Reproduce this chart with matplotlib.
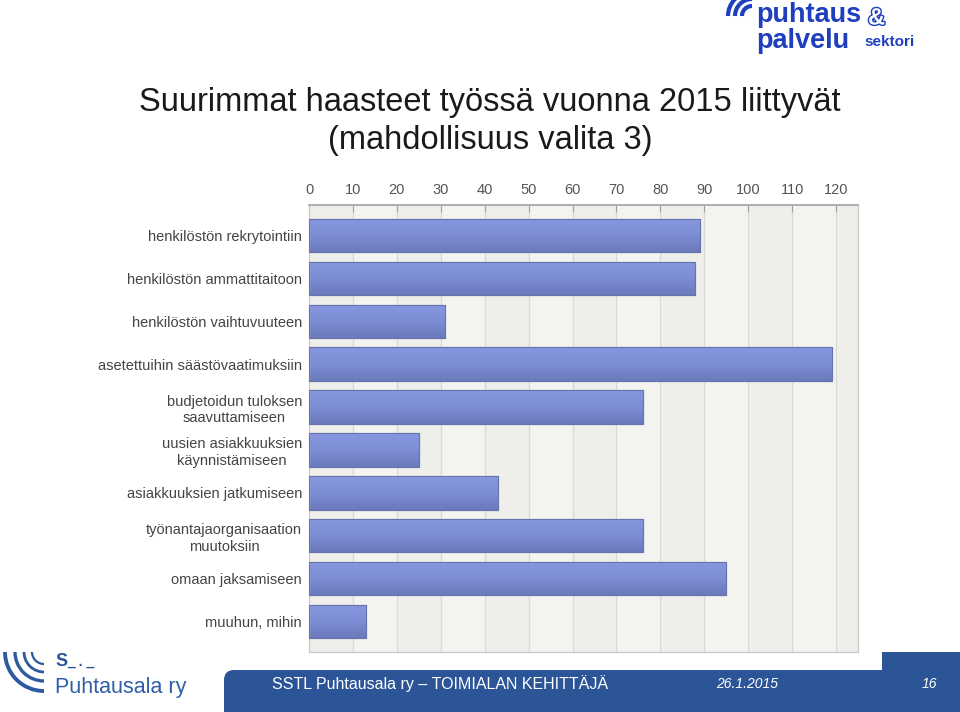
import matplotlib
matplotlib.use("Agg")
import matplotlib.pyplot as plt
import matplotlib.patheffects as pe
import numpy as np
from matplotlib.patches import Rectangle, FancyBboxPatch, Arc
from matplotlib.colors import LinearSegmentedColormap

plt.rcParams['font.family'] = ['Liberation Sans', 'DejaVu Sans']

categories = [
    "henkilöstön rekrytointiin",
    "henkilöstön ammattitaitoon",
    "henkilöstön vaihtuvuuteen",
    "asetettuihin säästövaatimuksiin",
    "budjetoidun tuloksen\nsaavuttamiseen",
    "uusien asiakkuuksien\nkäynnistämiseen",
    "asiakkuuksien jatkumiseen",
    "työnantajaorganisaation\nmuutoksiin",
    "omaan jaksamiseen",
    "muuhun, mihin",
]
values = [89, 88, 31, 119, 76, 25, 43, 76, 95, 13]
xticks = [0, 10, 20, 30, 40, 50, 60, 70, 80, 90, 100, 110, 120]

W, H = 960, 712
fig = plt.figure(figsize=(9.6, 7.12), dpi=100)
fig.patch.set_facecolor('white')

ax = fig.add_axes([309 / W, 1 - 652 / H, (858 - 309) / W, (652 - 205) / H])
ax.set_facecolor('#f3f4f0')
for i, x0 in enumerate(range(0, 125, 10)):
    if i % 2 == 0:
        ax.axvspan(x0, min(x0 + 10, 125), color='#eeefea', lw=0, zorder=0)
for x in xticks[1:]:
    ax.axvline(x, color='#d9dad6', lw=0.9, zorder=0.5)

y = np.arange(len(categories))
bars = ax.barh(y, values, height=0.77, color='#7b8bd2', edgecolor='#6a77b3', lw=0.8, zorder=2)
grad = np.linspace(0, 1, 64).reshape(-1, 1)
cmap = LinearSegmentedColormap.from_list('g', ['#8898e0', '#7d8dd5', '#6b7abb'])
for b in bars:
    x0, y0 = b.get_x(), b.get_y()
    w, h = b.get_width(), b.get_height()
    im = ax.imshow(grad, cmap=cmap, aspect='auto', extent=[x0, x0 + w, y0 + h, y0],
                   zorder=2.5, interpolation='bicubic')
    im.set_clip_path(b)
    ax.add_patch(Rectangle((x0, y0), w, h, fill=False, edgecolor='#6673ad', lw=0.8, zorder=3))
ax.set_xlim(0, 125)
ax.set_ylim(len(categories) - 1 + 0.7, -0.7)

ax.xaxis.tick_top()
ax.set_xticks(xticks)
ax.set_xticklabels([str(t) for t in xticks], fontsize=10.5, color='#555555')
ax.tick_params(axis='x', direction='in', length=5, color='#a0a0a0', pad=6)
ax.set_yticks(y)
ax.set_yticklabels(categories, fontsize=10.5, color='#444444', linespacing=1.25)
for lab in ax.get_yticklabels():
    lab.set_multialignment('center')
ax.tick_params(axis='y', length=0, pad=5)
for s in ax.spines.values():
    s.set_color('#c8c8c8')
    s.set_linewidth(0.9)
ax.spines['top'].set_color('#a8a8a8')
ax.spines['top'].set_linewidth(1.3)

# Title
fig.text(490 / W, 1 - 103 / H, "Suurimmat haasteet työssä vuonna 2015 liittyvät",
         ha='center', va='center', fontsize=23.5, color='#1a1a1a')
fig.text(490 / W, 1 - 140 / H, "(mahdollisuus valita 3)",
         ha='center', va='center', fontsize=23.5, color='#1a1a1a')

# Footer band
blue = '#2b5597'
fa = fig.add_axes([0, 0, 1, 1], zorder=-1)
fa.set_xlim(0, W)
fa.set_ylim(H, 0)
fa.axis('off')
fa.add_patch(FancyBboxPatch((224, 670), 736, 60, boxstyle='round,pad=0,rounding_size=10',
                            fc=blue, ec='none'))
fa.add_patch(Rectangle((882, 652), 78, 40, fc=blue, ec='none'))
fa.add_patch(Rectangle((240, 690), 720, 22, fc=blue, ec='none'))

fig.text(272 / W, 1 - 684 / H, "SSTL Puhtausala ry – TOIMIALAN KEHITTÄJÄ",
         ha='left', va='center', fontsize=11.5, color='white')
fig.text(716 / W, 1 - 684 / H, "26.1.2015", ha='left', va='center', fontsize=10,
         color='white', style='italic')
fig.text(922 / W, 1 - 684 / H, "16", ha='left', va='center', fontsize=10,
         color='white', style='italic')

# Left logo
for r, lw in ((12, 1.6), (20, 2.0), (29, 2.4), (39, 2.8)):
    fa.add_patch(Arc((44, 652), 2 * r, 2 * r, theta1=90, theta2=180, color='#2d5a9e', lw=lw))
fig.text(55 / W, 1 - 662 / H, "S", ha='left', va='center', fontsize=13, color=blue,
         fontweight='bold')
fig.text(67 / W, 1 - 662 / H, "_ . _", ha='left', va='center', fontsize=10, color=blue,
         fontweight='bold')
fig.text(55 / W, 1 - 688 / H, "Puhtausala ry", ha='left', va='center', fontsize=15.5,
         color='#2f5fa8')

# Top right logo
lblue = '#1f3fbf'
for r in (10, 17, 24):
    fa.add_patch(Arc((752, 16), 2 * r, 2 * r, theta1=180, theta2=270, color=lblue, lw=3))
fig.text(756 / W, 1 - 28 / H, "puhtaus\npalvelu", ha='left', va='center', fontsize=19.5,
         color=lblue, fontweight='bold', linespacing=0.95)
fig.text(868 / W, 1 - 18 / H, "&", ha='left', va='center', fontsize=17,
         color='white', fontweight='bold',
         path_effects=[pe.withStroke(linewidth=2, foreground=lblue)])
fig.text(864 / W, 1 - 42 / H, "sektori", ha='left', va='center', fontsize=11,
         color=lblue, fontweight='bold')

fig.savefig('out.png', dpi=100)
